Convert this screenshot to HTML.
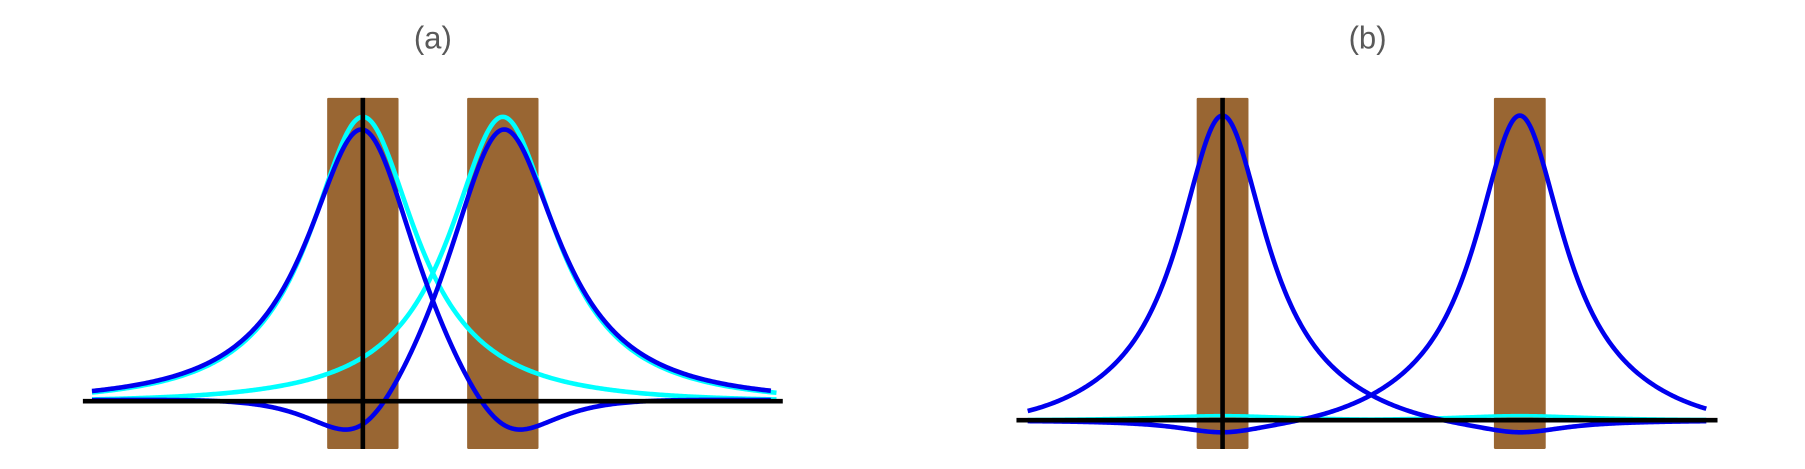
<!DOCTYPE html>
<html><head><meta charset="utf-8"><style>
html,body{margin:0;padding:0;background:#fff;}
svg{display:block;}
text{font-family:"Liberation Sans",sans-serif;}
</style></head><body>
<svg id="chart" width="1805" height="469" viewBox="0 0 1568 407.4"></svg>
<script>
// Panel (a) data (x in 0..10 units, y relative to cyan peak height)
const aPeaks = [4.0, 6.0];
const aCyanHeights = [1.0, 1.0];
const aCyanWidths = [0.94, 0.94];
const aBlueHeights = [1.01, 1.01];
const aBlueWidths = [0.99, 0.99];
const aBlueDipPos = [6.05, 3.95];
const aBlueDipDepth = [0.29, 0.29];
const aBarCenters = [4.0, 6.0];
// Panel (b) data
const bPeaks = [2.94, 7.18];
const bBlueHeights = [1.0, 1.0];
const bBlueWidths = [0.77, 0.77];
const bBlueDipPos = [7.18, 2.94];
const bBlueDipDepth = [0.04, 0.04];
const bCyanHeights = [0.015, 0.015];
const bBarCenters = [2.94, 7.18];
const titles = ["(a)", "(b)"];

const NS = "http://www.w3.org/2000/svg";
const svg = document.getElementById("chart");
function mk(tag, attrs){const e=document.createElementNS(NS,tag);for(const k in attrs)e.setAttribute(k,attrs[k]);svg.appendChild(e);return e;}

const panels = [
  {x0:72,x1:680,base:348.5,unit:247,barW:62,title:376},
  {x0:883,x1:1492,base:365,unit:265,barW:45,title:1188}
];
function xs(p,v){return p.x0+v*(p.x1-p.x0)/10;}
function ys(p,v){return p.base-v*p.unit;}
function lor(d,g){return g*g/(d*d+g*g);}
function env(d,s){return Math.exp(-(d/s)*(d/s));}
function env4(d,s){const r=(d/s)*(d/s);return Math.exp(-r*r);}
function path(p,f,a,b){let s="";for(let v=a;v<=b+1e-9;v+=0.02){s+=(s?"L":"M")+xs(p,v).toFixed(2)+","+ys(p,f(v)).toFixed(2);}return s;}

// titles
titles.forEach((t,i)=>{
  const el=mk("text",{x:panels[i].title,y:42,"text-anchor":"middle","font-size":"27",fill:"#595959"});
  el.textContent=t;
  
  
});

// Panel a
let pa=panels[0];
aBarCenters.forEach((c,i)=>{
  const r=mk("rect",{x:xs(pa,c)-pa.barW/2,y:85,width:pa.barW,height:305,fill:"#996633",rx:1});
  
  
});
aPeaks.forEach((c,i)=>{
  const e=mk("path",{d:path(pa,v=>aCyanHeights[i]*lor(v-c,aCyanWidths[i])*env(v-c,5),0.13,9.92),fill:"none",stroke:"#00ffff","stroke-width":4});
  
  
});
aPeaks.forEach((c,i)=>{
  const e=mk("path",{d:path(pa,v=>(aBlueHeights[i]*lor(v-c,aBlueWidths[i])-aBlueDipDepth[i]*lor(v-aBlueDipPos[i],aBlueWidths[i]))*env(v-c,6),0.13,9.84),fill:"none",stroke:"#0000ee","stroke-width":4});
  
  
});
let ax=mk("line",{x1:pa.x0,x2:pa.x1,y1:pa.base,y2:pa.base,stroke:"#000","stroke-width":4});


let vl=mk("line",{x1:xs(pa,aPeaks[0]),x2:xs(pa,aPeaks[0]),y1:85,y2:390,stroke:"#000","stroke-width":4});



// Panel b
let pb=panels[1];
bBarCenters.forEach((c,i)=>{
  const r=mk("rect",{x:xs(pb,c)-pb.barW/2,y:85,width:pb.barW,height:305,fill:"#996633",rx:1});
  
  
});
bPeaks.forEach((c,i)=>{
  const e=mk("path",{d:path(pb,v=>bCyanHeights[i]*lor(v-c,1.2),0.16,9.84),fill:"none",stroke:"#00ffff","stroke-width":3});
  
  
});
bPeaks.forEach((c,i)=>{
  const e=mk("path",{d:path(pb,v=>bBlueHeights[i]*lor(v-c,bBlueWidths[i])*env4(v-c,2.9)-bBlueDipDepth[i]*lor(v-bBlueDipPos[i],0.8),0.16,9.84),fill:"none",stroke:"#0000ee","stroke-width":4});
  
  
});
let bx=mk("line",{x1:pb.x0,x2:pb.x1,y1:pb.base,y2:pb.base,stroke:"#000","stroke-width":4});


let bl=mk("line",{x1:xs(pb,bPeaks[0]),x2:xs(pb,bPeaks[0]),y1:85,y2:390,stroke:"#000","stroke-width":4});


</script>
</body></html>
